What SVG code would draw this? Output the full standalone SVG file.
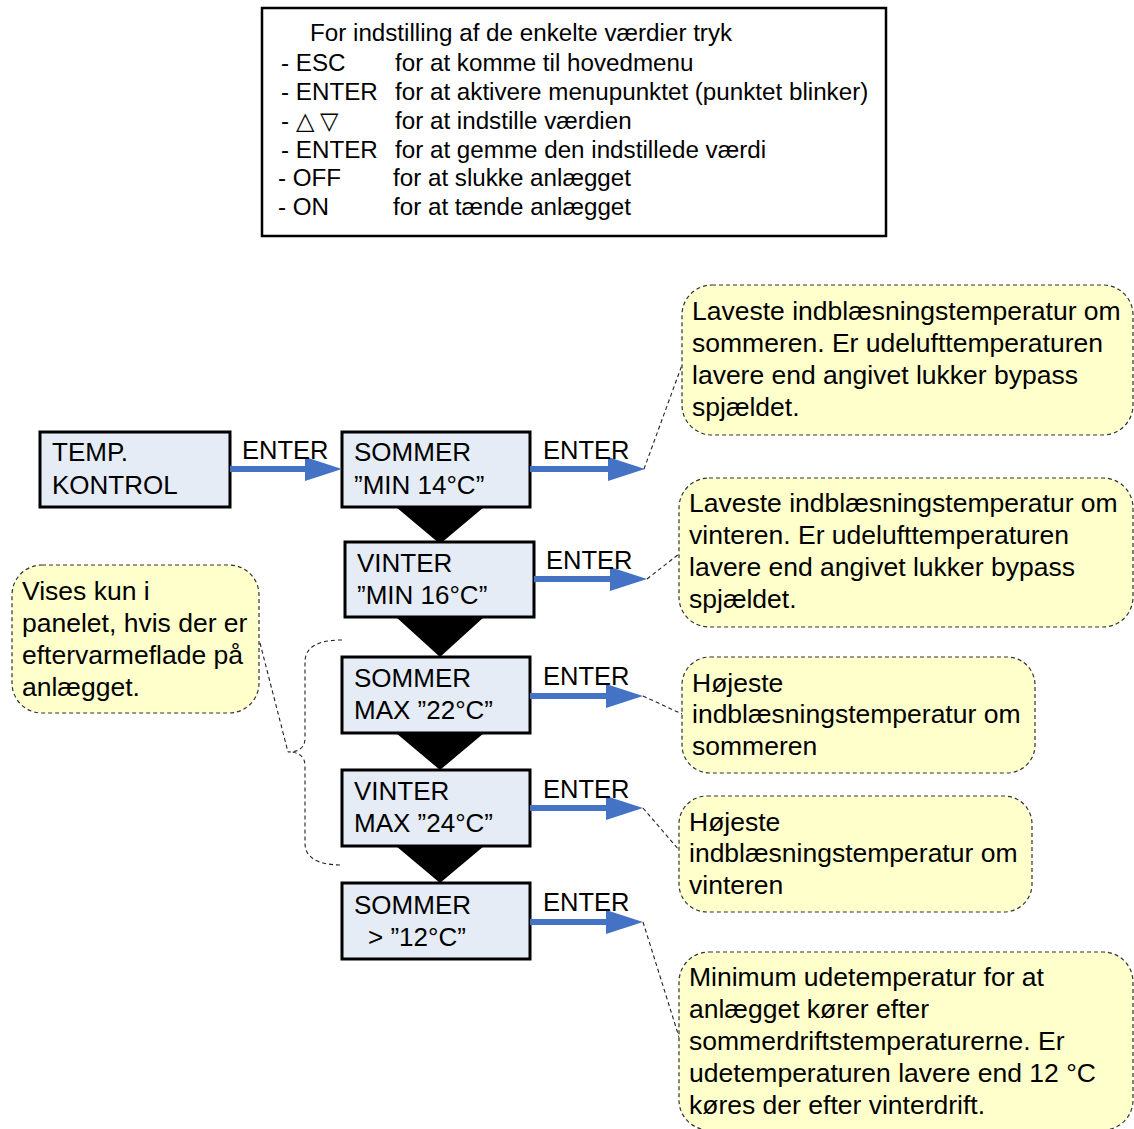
<svg xmlns="http://www.w3.org/2000/svg" width="1134" height="1129" viewBox="0 0 1134 1129">
<style>
text{font-family:"Liberation Sans",Arial,sans-serif;fill:#000}
.legend text{font-size:24.2px}
.node rect{fill:#E5ECF6;stroke:#000;stroke-width:3}
.node text{font-size:26px}
.lbl{font-size:25.5px}
.call rect{fill:#FFFFCC;stroke:#333;stroke-width:1.2;stroke-dasharray:4 3}
.call text{font-size:26.5px}
.arrow{stroke:#4472C4;stroke-width:6;fill:none}
.lead{stroke:#222;stroke-width:1.1;stroke-dasharray:4 3;fill:none}
.tri{fill:#000}
</style>
<defs>
<marker id="ah" markerUnits="userSpaceOnUse" markerWidth="38" markerHeight="26" refX="7" refY="12" orient="auto">
<path d="M0,0 L37,12 L0,24 Z" fill="#4472C4"/>
</marker>
</defs>

<g id="legend" class="legend">
<rect x="262" y="8" width="624" height="228" fill="#fff" stroke="#000" stroke-width="2.5"/>
<text x="310" y="41">For indstilling af de enkelte værdier tryk</text>
<text x="281" y="71">- ESC</text><text x="395" y="71">for at komme til hovedmenu</text>
<text x="281" y="100">- ENTER</text><text x="395" y="100">for at aktivere menupunktet (punktet blinker)</text>
<text x="281" y="129">- △ ▽</text><text x="395" y="129">for at indstille værdien</text>
<text x="281" y="158">- ENTER</text><text x="395" y="158">for at gemme den indstillede værdi</text>
<text x="278" y="186">- OFF</text><text x="393" y="186">for at slukke anlægget</text>
<text x="278" y="215">- ON</text><text x="393" y="215">for at tænde anlægget</text>
</g>

<g id="flow-triangles">
<polygon class="tri" points="396,507 484,507 440,544"/>
<polygon class="tri" points="396,617 484,617 440,657"/>
<polygon class="tri" points="396,733 484,733 440,770"/>
<polygon class="tri" points="396,846 484,846 440,883"/>
</g>

<g id="node-temp" class="node">
<rect x="40" y="432" width="190" height="75"/>
<text x="52" y="461">TEMP.</text><text x="52" y="494">KONTROL</text>
</g>
<g id="node-sommer-min" class="node">
<rect x="342" y="432" width="188" height="75"/>
<text x="354" y="461">SOMMER</text><text x="354" y="494">”MIN 14°C”</text>
</g>
<g id="node-vinter-min" class="node">
<rect x="345" y="542" width="189" height="75"/>
<text x="357" y="572">VINTER</text><text x="357" y="604">”MIN 16°C”</text>
</g>
<g id="node-sommer-max" class="node">
<rect x="342" y="657" width="188" height="76"/>
<text x="354" y="687">SOMMER</text><text x="354" y="719">MAX ”22°C”</text>
</g>
<g id="node-vinter-max" class="node">
<rect x="342" y="770" width="188" height="76"/>
<text x="354" y="800">VINTER</text><text x="354" y="832">MAX ”24°C”</text>
</g>
<g id="node-sommer-ude" class="node">
<rect x="342" y="883" width="188" height="76"/>
<text x="354" y="914">SOMMER</text><text x="368" y="946">&gt; ”12°C”</text>
</g>

<g id="connectors">
<line class="arrow" x1="230" y1="469" x2="312" y2="469" marker-end="url(#ah)"/>
<line class="arrow" x1="530" y1="469" x2="615" y2="469" marker-end="url(#ah)"/>
<line class="arrow" x1="534" y1="579" x2="617" y2="579" marker-end="url(#ah)"/>
<line class="arrow" x1="530" y1="696" x2="613" y2="696" marker-end="url(#ah)"/>
<line class="arrow" x1="530" y1="808" x2="613" y2="808" marker-end="url(#ah)"/>
<line class="arrow" x1="530" y1="922" x2="613" y2="922" marker-end="url(#ah)"/>
<text class="lbl" x="242" y="459">ENTER</text>
<text class="lbl" x="543" y="459">ENTER</text>
<text class="lbl" x="546" y="569">ENTER</text>
<text class="lbl" x="543" y="685">ENTER</text>
<text class="lbl" x="543" y="798">ENTER</text>
<text class="lbl" x="543" y="911">ENTER</text>
<polyline class="lead" points="644,469 682,365"/>
<polyline class="lead" points="647,579 679,554"/>
<polyline class="lead" points="643,696 682,714"/>
<polyline class="lead" points="643,808 679,850"/>
<polyline class="lead" points="643,922 679,1037"/>
<polyline class="lead" points="260,643 288,752"/>
<path class="lead" d="M342,640 Q305,640 305,662 L305,738 Q305,752 288,752 Q305,752 305,766 L305,843 Q305,865 342,865"/>
</g>

<g id="note-1" class="call">
<rect x="682" y="285" width="451" height="150" rx="30"/>
<text x="692" y="320">Laveste indblæsningstemperatur om</text>
<text x="692" y="352">sommeren. Er udelufttemperaturen</text>
<text x="692" y="384">lavere end angivet lukker bypass</text>
<text x="692" y="416">spjældet.</text>
</g>
<g id="note-2" class="call">
<rect x="679" y="478" width="454" height="149" rx="30"/>
<text x="689" y="512">Laveste indblæsningstemperatur om</text>
<text x="689" y="544">vinteren. Er udelufttemperaturen</text>
<text x="689" y="576">lavere end angivet lukker bypass</text>
<text x="689" y="608">spjældet.</text>
</g>
<g id="note-3" class="call">
<rect x="682" y="657" width="353" height="116" rx="28"/>
<text x="692" y="692">Højeste</text>
<text x="692" y="723">indblæsningstemperatur om</text>
<text x="692" y="755">sommeren</text>
</g>
<g id="note-4" class="call">
<rect x="679" y="796" width="353" height="116" rx="28"/>
<text x="689" y="831">Højeste</text>
<text x="689" y="862">indblæsningstemperatur om</text>
<text x="689" y="894">vinteren</text>
</g>
<g id="note-5" class="call">
<rect x="679" y="952" width="454" height="178" rx="30"/>
<text x="689" y="986">Minimum udetemperatur for at</text>
<text x="689" y="1018">anlægget kører efter</text>
<text x="689" y="1050">sommerdriftstemperaturerne. Er</text>
<text x="689" y="1082">udetemperaturen lavere end 12 °C</text>
<text x="689" y="1114">køres der efter vinterdrift.</text>
</g>
<g id="note-6" class="call">
<rect x="12" y="565" width="247" height="148" rx="30"/>
<text x="22" y="600">Vises kun i</text>
<text x="22" y="632">panelet, hvis der er</text>
<text x="22" y="664">eftervarmeflade på</text>
<text x="22" y="696">anlægget.</text>
</g>
</svg>
